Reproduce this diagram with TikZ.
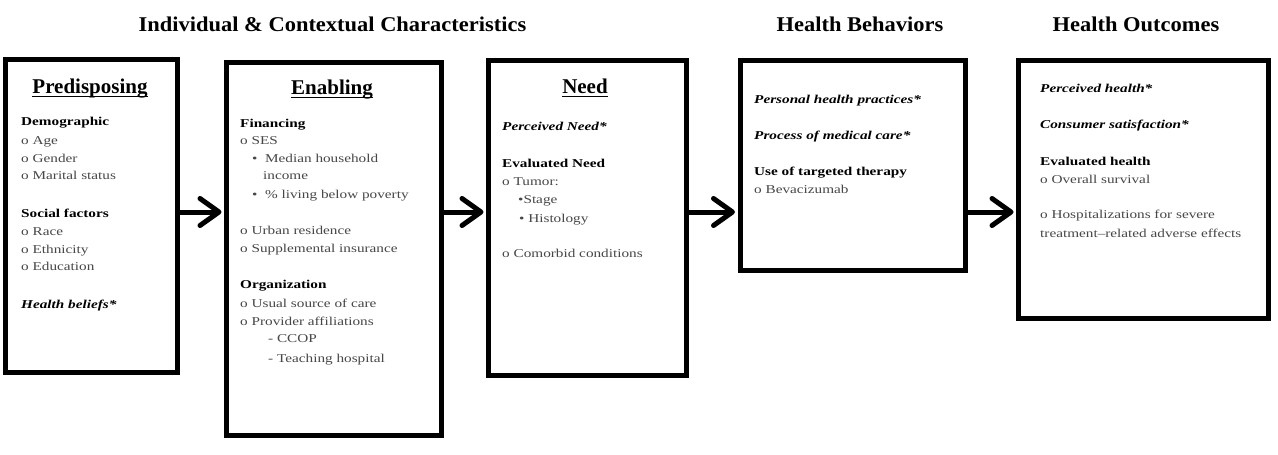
\documentclass[tikz,border=0pt]{standalone}
\usepackage{fontspec}
\setmainfont{Liberation Serif}
\newfontfamily\bodyfont{Liberation Serif}[FakeStretch=1.27]
\newfontfamily\headfont{Liberation Serif}[FakeStretch=1.07]
\usetikzlibrary{arrows.meta}
\begin{document}
\begin{tikzpicture}[x=1pt,y=-1pt,
  box/.style={draw=black,line width=5pt,fill=white,inner sep=0pt},
  txt/.style={anchor=base west,inner sep=0pt,text=black!72,font=\bodyfont\fontsize{12}{14}\selectfont},
  ttl/.style={anchor=base,inner sep=0pt,font=\bfseries\fontsize{21}{24}\selectfont},
  hdr/.style={anchor=base,inner sep=0pt,font=\headfont\bfseries\fontsize{21}{24}\selectfont},
  arr/.style={line width=5pt,-{Straight Barb[length=19pt,width=27pt,round]},shorten >=2.5pt},
  uline/.style={line width=1.3pt}]
\useasboundingbox[fill=white] (0,0) rectangle (1278,455);

% headers
\node[hdr] (h1) at (332.5,31) {Individual \& Contextual Characteristics};
\node[hdr] (h2) at (860,31) {Health Behaviors};
\node[hdr] (h3) at (1136,31) {Health Outcomes};

% boxes
\node[box,minimum width=172pt,minimum height=313pt] (b1) at (91.5,216) {};
\node[box,minimum width=214.5pt,minimum height=373pt] (b2) at (333.75,249) {};
\node[box,minimum width=198pt,minimum height=314.5pt] (b3) at (587.5,217.75) {};
\node[box,minimum width=225pt,minimum height=210pt] (b4) at (852.5,165) {};
\node[box,minimum width=250pt,minimum height=258.5pt] (b5) at (1143.5,189.25) {};

% arrows
\coordinate (ay) at (0,212);
\draw[arr] (b1.east |- ay) -- (b2.west |- ay);
\draw[arr] (b2.east |- ay) -- (b3.west |- ay);
\draw[arr] (b3.east |- ay) -- (b4.west |- ay);
\draw[arr] (b4.east |- ay) -- (b5.west |- ay);

% Predisposing
\node[ttl] (t1) at (90,93) {Predisposing};
\draw[uline] ([yshift=-3.5pt]t1.base west) -- ([yshift=-3.5pt]t1.base east);
\node[txt,text=black] (p1) at (21,125) {\bfseries Demographic};
\node[txt] (p2) at (21,144) {o Age};
\node[txt] (p3) at (21,162) {o Gender};
\node[txt] (p4) at (21,179) {o Marital status};
\node[txt,text=black] (p5) at (21,217) {\bfseries Social factors};
\node[txt] (p6) at (21,235) {o Race};
\node[txt] (p7) at (21,253) {o Ethnicity};
\node[txt] (p8) at (21,270) {o Education};
\node[txt,text=black] (p9) at (21,308) {\bfseries\itshape Health beliefs*};

% Enabling
\node[ttl] (t2) at (332,94) {Enabling};
\draw[uline] ([yshift=-3.5pt]t2.base west) -- ([yshift=-3.5pt]t2.base east);
\node[txt,text=black] (e1) at (240,127) {\bfseries Financing};
\node[txt] (e2) at (240,144) {o SES};
\node[txt] (e3) at (252,162) {\textbullet\ \ Median household};
\node[txt] (e4) at (263,179) {income};
\node[txt] (e5) at (252,198) {\textbullet\ \ \% living below poverty};
\node[txt] (e6) at (240,234) {o Urban residence};
\node[txt] (e7) at (240,252) {o Supplemental insurance};
\node[txt,text=black] (e8) at (240,288) {\bfseries Organization};
\node[txt] (e9) at (240,307) {o Usual source of care};
\node[txt] (e10) at (240,325) {o Provider affiliations};
\node[txt] (e11) at (268,342) {- CCOP};
\node[txt] (e12) at (268,362) {- Teaching hospital};

% Need
\node[ttl] (t3) at (585,93) {Need};
\draw[uline] ([yshift=-3.5pt]t3.base west) -- ([yshift=-3.5pt]t3.base east);
\node[txt,text=black] (n1) at (502,130) {\bfseries\itshape Perceived Need*};
\node[txt,text=black] (n2) at (502,167) {\bfseries Evaluated Need};
\node[txt] (n3) at (502,185) {o Tumor:};
\node[txt] (n4) at (518,203) {\textbullet Stage};
\node[txt] (n5) at (519,222) {\textbullet\ Histology};
\node[txt] (n6) at (502,257) {o Comorbid conditions};

% Health behaviors
\node[txt,text=black] (m1) at (754,103) {\bfseries\itshape Personal health practices*};
\node[txt,text=black] (m2) at (754,139) {\bfseries\itshape Process of medical care*};
\node[txt,text=black] (m3) at (754,175) {\bfseries Use of targeted therapy};
\node[txt] (m4) at (754,193) {o Bevacizumab};

% Health outcomes
\node[txt,text=black] (o1) at (1040,92) {\bfseries\itshape Perceived health*};
\node[txt,text=black] (o2) at (1040,128) {\bfseries\itshape Consumer satisfaction*};
\node[txt,text=black] (o3) at (1040,165) {\bfseries Evaluated health};
\node[txt] (o4) at (1040,183) {o Overall survival};
\node[txt] (o5) at (1040,218) {o Hospitalizations for severe};
\node[txt] (o6) at (1040,237) {treatment\textendash related adverse effects};
\end{tikzpicture}
\end{document}
